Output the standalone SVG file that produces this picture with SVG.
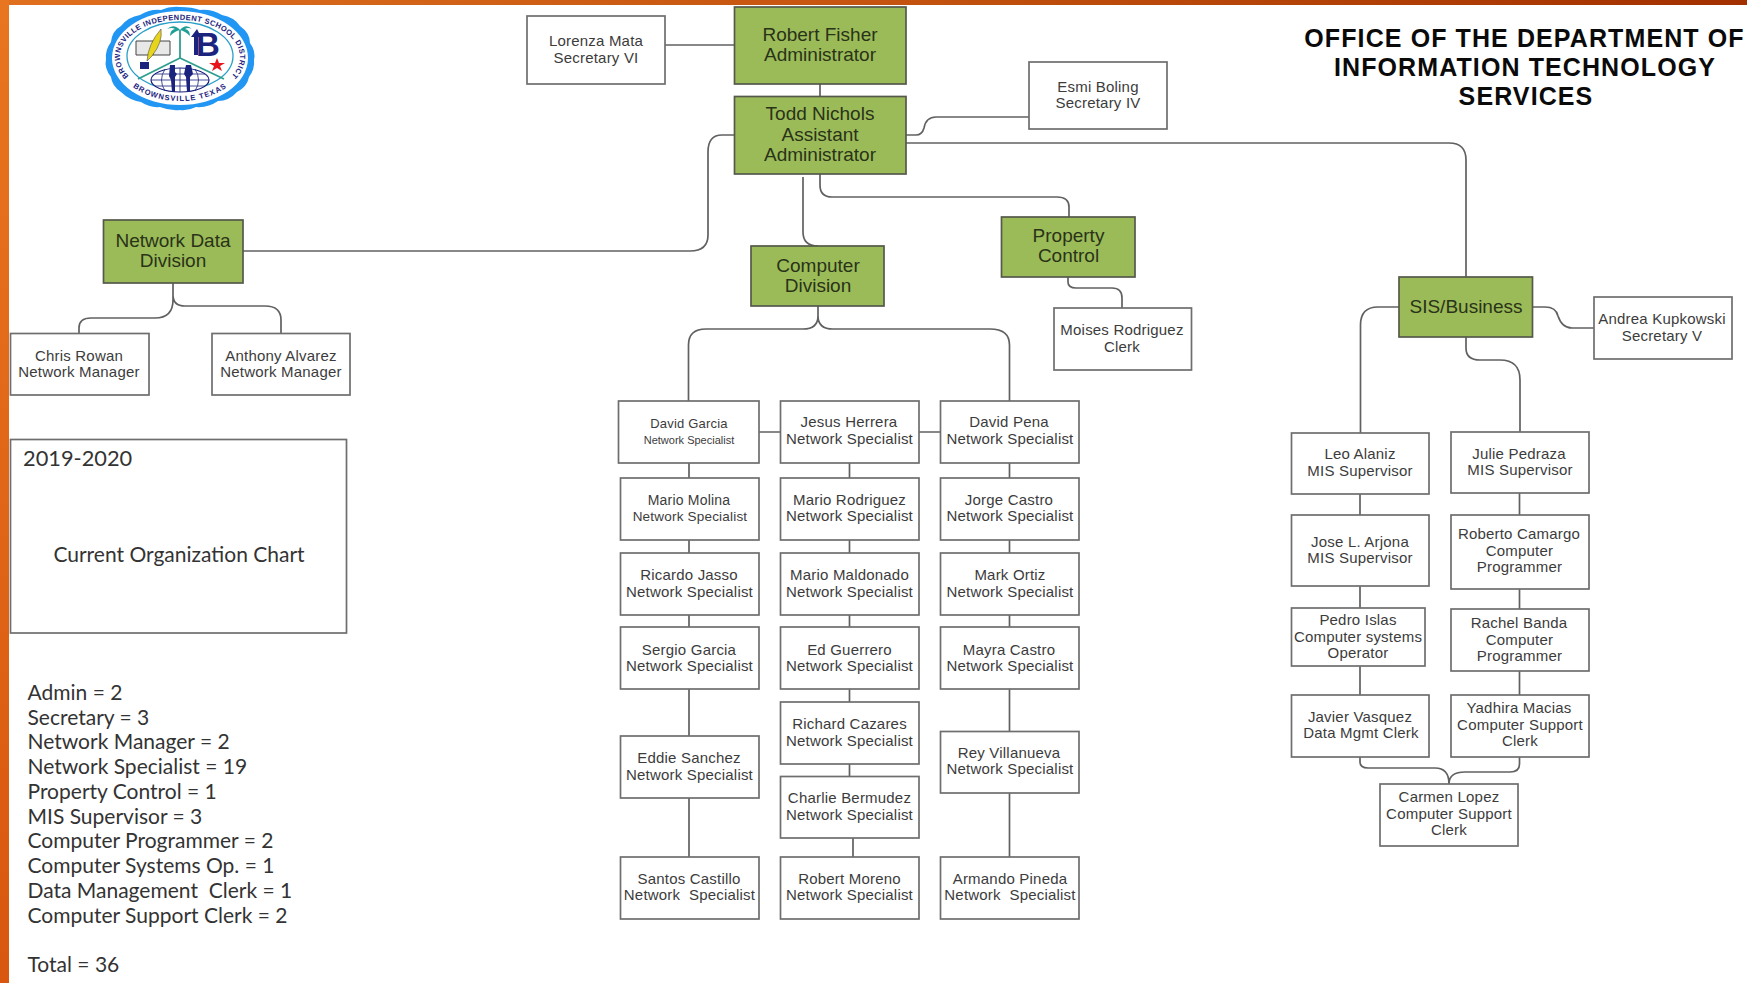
<svg xmlns="http://www.w3.org/2000/svg" width="1747" height="983" viewBox="0 0 1747 983">
<style>
text{font-family:"Liberation Sans",Arial,sans-serif;text-anchor:middle;white-space:pre}
.b{fill:#fff;stroke:#6e6e6e;stroke-width:1.700}
.g{fill:#9bbb59;stroke:#55594a;stroke-width:1.700}
.t{font-size:15px;fill:#3c3c3c;letter-spacing:.2px}
.h{font-size:19px;fill:#2a3318}
.c{fill:none;stroke:#616161;stroke-width:1.700}
.l{font-family:Lato,"Open Sans",sans-serif;font-size:21px;fill:#333;text-anchor:start}
.ttl{font-size:25px;font-weight:bold;fill:#0a0a0a;letter-spacing:1.100px}
.lg{font-size:7.500px;font-weight:bold;fill:#1a237e}
</style>
<defs>
<linearGradient id="top" x1="0" x2="1" y1="0" y2="0"><stop offset="0" stop-color="#e0701f"/><stop offset=".5" stop-color="#c4540f"/><stop offset="1" stop-color="#a23000"/></linearGradient>
<linearGradient id="left" x1="0" x2="0" y1="0" y2="1"><stop offset="0" stop-color="#e8751f"/><stop offset="1" stop-color="#d9570f"/></linearGradient>
<path id="arcT" d="M143 86A60 37 0 1 1 217 86"/>
<path id="arcB" d="M125.400 80A64 44 0 0 0 234.600 80"/>
</defs>
<rect width="1747" height="983" fill="#fff"/>
<rect width="1747" height="5" fill="url(#top)"/>
<rect width="9" height="983" fill="url(#left)"/>

<g id="connectors" class="c">
<path class="c" d="M665 45H734M820 84V96M906 135H916Q922 135 924 128Q926 117 936 117H1033M906 143H1449Q1466 143 1466 160V277M243 251H690Q708 251 708 235V152Q708 135 722 135H734M803 177V232Q803 246 818 246M820 174V185Q820 197 832 197H1057Q1069 197 1069 207V217M1068 277V282Q1068 288 1076 288H1112Q1122 288 1122 298V308"/>
<path class="c" d="M818 306V316Q818 329 803 329H706Q688.500 329 688.500 345V401M818 316Q818 329 833 329H990Q1009.500 329 1009.500 345V401"/>
<path class="c" d="M173 283V300Q173 318 155 318H91Q79 318 79 328V333M173 295Q173 306 185 306H265Q281 306 281 320V333"/>
<path class="c" d="M689 463V478M689 540V553M689 615V627M689 689V736M689 798V857M849.500 463V478M849.500 540V553M849.500 615V627M849.500 689V702M849.500 764V776M853 838V857M1009.500 463V478M1009.500 540V553M1009.500 615V627M1009.500 689V731M1009.500 793V857M759 432H780M919 432H940"/>
<path class="c" d="M1399 307H1378Q1360.500 307 1360.500 325V433M1466 337V348Q1466 360 1480 360H1500Q1520 360 1520 380V432M1532 307H1545Q1556 307 1558 316Q1562 328 1572 328H1594"/>
<path class="c" d="M1360 494V515M1360 586V608M1360 666V695M1519.500 493V515M1519.500 589V609M1519.500 671V695M1360 757V762Q1360 768 1368 768H1435Q1449 768 1449 784M1519.500 757V764Q1519.500 772 1510 772H1465Q1449 772 1449 784"/>
</g>

<g id="robert-fisher"><rect class="g" x="734.500" y="7" width="171.500" height="77"/><text class="h" x="820" y="41">Robert Fisher</text><text class="h" x="820" y="61">Administrator</text></g>
<g id="todd-nichols"><rect class="g" x="734.500" y="96.500" width="171.500" height="77.500"/><text class="h" x="820" y="120">Todd Nichols</text><text class="h" x="820" y="141">Assistant</text><text class="h" x="820" y="161">Administrator</text></g>
<g id="network-data"><rect class="g" x="103.500" y="220" width="139.500" height="63"/><text class="h" x="173" y="247">Network Data</text><text class="h" x="173" y="267">Division</text></g>
<g id="computer-division"><rect class="g" x="751" y="246" width="133" height="60"/><text class="h" x="818" y="272">Computer</text><text class="h" x="818" y="292">Division</text></g>
<g id="property-control"><rect class="g" x="1001.500" y="217" width="133.500" height="60"/><text class="h" x="1068.500" y="242">Property</text><text class="h" x="1068.500" y="262">Control</text></g>
<g id="sis-business"><rect class="g" x="1399" y="277" width="133.500" height="60"/><text class="h" x="1466" y="313">SIS/Business</text></g>

<g id="lorenza"><rect class="b" x="527" y="16" width="138" height="68"/><text class="t" x="596" y="46">Lorenza Mata</text><text class="t" x="596" y="63">Secretary VI</text></g>
<g id="esmi"><rect class="b" x="1029" y="62" width="138" height="67"/><text class="t" x="1098" y="92">Esmi Boling</text><text class="t" x="1098" y="108">Secretary IV</text></g>
<g id="moises"><rect class="b" x="1054" y="308" width="137.500" height="62"/><text class="t" x="1122" y="335">Moises Rodriguez</text><text class="t" x="1122" y="352">Clerk</text></g>
<g id="andrea"><rect class="b" x="1594" y="297" width="138" height="62"/><text class="t" x="1662" y="324">Andrea Kupkowski</text><text class="t" x="1662" y="341">Secretary V</text></g>
<g id="chris"><rect class="b" x="10.500" y="333.500" width="138.500" height="61.500"/><text class="t" x="79" y="361">Chris Rowan</text><text class="t" x="79" y="377">Network Manager</text></g>
<g id="anthony"><rect class="b" x="212" y="333.500" width="138" height="61.500"/><text class="t" x="281" y="361">Anthony Alvarez</text><text class="t" x="281" y="377">Network Manager</text></g>

<g id="david-garcia"><rect class="b" x="618.500" y="401" width="140.500" height="62"/><text class="t" x="689" y="428" style="font-size:13px">David Garcia</text><text class="t" x="689" y="444" style="font-size:11px;letter-spacing:0">Network Specialist</text></g>
<g id="jesus"><rect class="b" x="780.500" y="401" width="138.500" height="62"/><text class="t" x="849" y="427">Jesus Herrera</text><text class="t" x="849.500" y="444">Network Specialist</text></g>
<g id="david-pena"><rect class="b" x="940.500" y="401" width="138.500" height="62"/><text class="t" x="1009" y="427">David Pena</text><text class="t" x="1010" y="444">Network Specialist</text></g>
<g id="mario-molina"><rect class="b" x="620.500" y="478" width="138.500" height="62"/><text class="t" x="689" y="505" style="font-size:14px">Mario Molina</text><text class="t" x="690" y="521" style="font-size:13.500px">Network Specialist</text></g>
<g id="mario-rodriguez"><rect class="b" x="780.500" y="478" width="138.500" height="62"/><text class="t" x="849.500" y="505">Mario Rodriguez</text><text class="t" x="849.500" y="521">Network Specialist</text></g>
<g id="jorge"><rect class="b" x="940.500" y="478" width="138.500" height="62"/><text class="t" x="1009" y="505">Jorge Castro</text><text class="t" x="1010" y="521">Network Specialist</text></g>
<g id="ricardo"><rect class="b" x="620.500" y="553" width="138.500" height="62"/><text class="t" x="689" y="580">Ricardo Jasso</text><text class="t" x="689.500" y="597">Network Specialist</text></g>
<g id="mario-maldonado"><rect class="b" x="780.500" y="553" width="138.500" height="62"/><text class="t" x="849.500" y="580">Mario Maldonado</text><text class="t" x="849.500" y="597">Network Specialist</text></g>
<g id="mark"><rect class="b" x="940.500" y="553" width="138.500" height="62"/><text class="t" x="1010" y="580">Mark Ortiz</text><text class="t" x="1010" y="597">Network Specialist</text></g>
<g id="sergio"><rect class="b" x="620.500" y="627" width="138.500" height="62"/><text class="t" x="689" y="655">Sergio Garcia</text><text class="t" x="689.500" y="671">Network Specialist</text></g>
<g id="ed"><rect class="b" x="780.500" y="627" width="138.500" height="62"/><text class="t" x="849.500" y="655">Ed Guerrero</text><text class="t" x="849.500" y="671">Network Specialist</text></g>
<g id="mayra"><rect class="b" x="940.500" y="627" width="138.500" height="62"/><text class="t" x="1009" y="655">Mayra Castro</text><text class="t" x="1010" y="671">Network Specialist</text></g>
<g id="richard"><rect class="b" x="780.500" y="702" width="138.500" height="62"/><text class="t" x="849.500" y="729">Richard Cazares</text><text class="t" x="849.500" y="746">Network Specialist</text></g>
<g id="charlie"><rect class="b" x="780.500" y="776.500" width="138.500" height="61.500"/><text class="t" x="849.500" y="803">Charlie Bermudez</text><text class="t" x="849.500" y="820">Network Specialist</text></g>
<g id="eddie"><rect class="b" x="620.500" y="736" width="138.500" height="62"/><text class="t" x="689" y="763">Eddie Sanchez</text><text class="t" x="689.500" y="780">Network Specialist</text></g>
<g id="rey"><rect class="b" x="940.500" y="731.500" width="138.500" height="61.500"/><text class="t" x="1009" y="758">Rey Villanueva</text><text class="t" x="1010" y="774">Network Specialist</text></g>
<g id="santos"><rect class="b" x="620.500" y="857" width="138.500" height="62"/><text class="t" x="689" y="884">Santos Castillo</text><text class="t" x="689.500" y="900">Network  Specialist</text></g>
<g id="moreno"><rect class="b" x="780.500" y="857" width="138.500" height="62"/><text class="t" x="849.500" y="884">Robert Moreno</text><text class="t" x="849.500" y="900">Network Specialist</text></g>
<g id="armando"><rect class="b" x="940.500" y="857" width="138.500" height="62"/><text class="t" x="1010" y="884">Armando Pineda</text><text class="t" x="1010" y="900">Network  Specialist</text></g>

<g id="leo"><rect class="b" x="1291.500" y="433" width="137.500" height="61"/><text class="t" x="1360" y="459">Leo Alaniz</text><text class="t" x="1360" y="476">MIS Supervisor</text></g>
<g id="julie"><rect class="b" x="1451" y="432" width="138" height="61"/><text class="t" x="1519" y="459">Julie Pedraza</text><text class="t" x="1520" y="475">MIS Supervisor</text></g>
<g id="jose"><rect class="b" x="1291.500" y="515" width="137.500" height="71"/><text class="t" x="1360" y="547">Jose L. Arjona</text><text class="t" x="1360" y="563">MIS Supervisor</text></g>
<g id="roberto"><rect class="b" x="1451" y="515" width="138" height="74"/><text class="t" x="1519" y="539">Roberto Camargo</text><text class="t" x="1519.500" y="556">Computer</text><text class="t" x="1519.500" y="572">Programmer</text></g>
<g id="pedro"><rect class="b" x="1291.500" y="608" width="133.500" height="58"/><text class="t" x="1358" y="625">Pedro Islas</text><text class="t" x="1358" y="642">Computer systems</text><text class="t" x="1358" y="658">Operator</text></g>
<g id="rachel"><rect class="b" x="1451" y="609" width="138" height="62"/><text class="t" x="1519" y="628">Rachel Banda</text><text class="t" x="1519.500" y="645">Computer</text><text class="t" x="1519.500" y="661">Programmer</text></g>
<g id="javier"><rect class="b" x="1291.500" y="695" width="137.500" height="62"/><text class="t" x="1360" y="722">Javier Vasquez</text><text class="t" x="1361" y="738">Data Mgmt Clerk</text></g>
<g id="yadhira"><rect class="b" x="1451" y="695" width="138" height="62"/><text class="t" x="1519" y="713">Yadhira Macias</text><text class="t" x="1520" y="730">Computer Support</text><text class="t" x="1520" y="746">Clerk</text></g>
<g id="carmen"><rect class="b" x="1380" y="784" width="138" height="62"/><text class="t" x="1449" y="802">Carmen Lopez</text><text class="t" x="1449" y="819">Computer Support</text><text class="t" x="1449" y="835">Clerk</text></g>

<g id="title"><text class="ttl" x="1524.500" y="47">OFFICE OF THE DEPARTMENT OF</text><text class="ttl" x="1525" y="76">INFORMATION TECHNOLOGY</text><text class="ttl" x="1526" y="105">SERVICES</text></g>

<g id="caption"><rect x="10.500" y="439.500" width="336" height="193.500" fill="#fff" stroke="#6e6e6e" stroke-width="1.700"/><text class="l" x="23" y="465.500" style="font-size:21.800px">2019-2020</text><text class="l" x="179" y="562" style="text-anchor:middle">Current Organization Chart</text></g>
<g id="counts">
<text class="l" x="27.500" y="699.500">Admin = 2</text>
<text class="l" x="27.500" y="724.500">Secretary = 3</text>
<text class="l" x="27.500" y="749">Network Manager = 2</text>
<text class="l" x="27.500" y="774">Network Specialist = 19</text>
<text class="l" x="27.500" y="799">Property Control = 1</text>
<text class="l" x="27.500" y="823.500">MIS Supervisor = 3</text>
<text class="l" x="27.500" y="848">Computer Programmer = 2</text>
<text class="l" x="27.500" y="873">Computer Systems Op. = 1</text>
<text class="l" x="27.500" y="898">Data Management  Clerk = 1</text>
<text class="l" x="27.500" y="922.500">Computer Support Clerk = 2</text>
<text class="l" x="27.500" y="972">Total = 36</text>
</g>

<g id="logo">
<path fill="#2196f3" d="M180 7Q192 7 200 10Q212 9 222 15Q234 17 240 26Q250 33 250 43Q256 51 254 60Q255 69 249 77Q247 87 237 92Q229 101 218 101Q208 108 196 107Q188 111 180 110Q170 111 160 107Q150 108 141 102Q129 100 121 92Q112 86 111 77Q104 68 106 59Q105 50 111 42Q112 31 121 26Q128 17 140 15Q150 9 161 10Q170 6 180 7Z"/>
<ellipse cx="180" cy="58" rx="68" ry="47" fill="#fff"/>
<ellipse cx="180" cy="56" rx="53" ry="34" fill="#fff" stroke="#2aa0c8" stroke-width="1.300"/>
<text class="lg" style="letter-spacing:.4px"><textPath href="#arcT" startOffset="50%">BROWNSVILLE INDEPENDENT SCHOOL DISTRICT</textPath></text>
<text class="lg" style="letter-spacing:1px"><textPath href="#arcB" startOffset="50%">BROWNSVILLE TEXAS</textPath></text>
<path fill="none" stroke="#2f9e8f" stroke-width="1.800" d="M180 30V58M180 58L138 79M180 58L224 79"/>
<path fill="#1f9e96" d="M180 30Q174 23 167 29Q172 27 175 29Q170 30 170 36Q175 31 180 30Q185 31 190 36Q190 30 185 29Q188 27 192 29Q186 23 180 30Z"/>
<path fill="#e8e8e8" stroke="#444" d="M136 41H170V55H136Z"/>
<path fill="none" stroke="#444" d="M153 41V55"/>
<path fill="#e6d51c" stroke="#333" stroke-width=".5" d="M161 29Q163 42 152 56L147 61Q148 44 161 29Z"/>
<rect x="140" y="62" width="9" height="7" fill="#1a237e"/>
<path fill="#1a237e" d="M197 29L191 37H194V55H198V37H201Z"/>
<text x="208" y="56" style="font-size:33px;font-weight:bold;fill:#1a237e">B</text>
<polygon fill="#e8141c" points="217,58 219,63 225,63 220,66 222,71 217,68 212,71 214,66 209,63 215,63"/>
<ellipse cx="180" cy="80" rx="29" ry="12" fill="#fff" stroke="#1a237e" stroke-width="1.200"/>
<path fill="none" stroke="#1a237e" stroke-width=".8" d="M151 80H209M155 74H205M155 86H205M180 68V92M165 69Q158 80 165 91M195 69Q202 80 195 91"/>
<path fill="#1a237e" d="M170 65h5v7l2 2-2 3v15h-3l-1-12-2-4zM186 65h5l2 9-3 3v15h-3l-1-15-2-3z"/>
</g>
</svg>
